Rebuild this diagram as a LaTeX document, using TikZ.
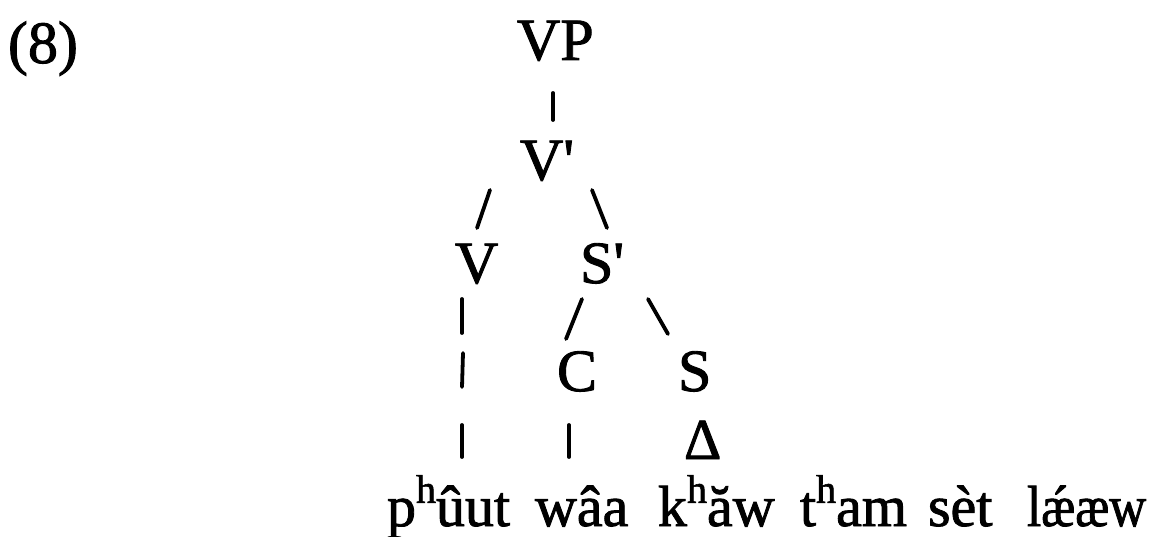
\documentclass[tikz,border=0pt]{standalone}
\usepackage{fontspec}
\setmainfont{Liberation Serif}
\newfontfamily\plainserif{Liberation Serif}[FakeBold=1.5]
\begin{document}
\begin{tikzpicture}[x=1pt,y=-1pt,
  lab/.style={anchor=base west,inner sep=0pt,outer sep=0pt,font=\plainserif\fontsize{60}{72}\selectfont},
  word/.style={lab,font=\plainserif\fontsize{58}{70}\selectfont},
  branch/.style={line width=3.8pt,line cap=round}]
\useasboundingbox (0,0) rectangle (1157,537);
\newcommand{\sh}{\raisebox{0.4em}{\fontsize{40}{40}\selectfont h}}
% labels
\node[lab] (ex) at (8,63) {(8)};
\node[lab] (vp) at (517,60) {VP};
\node[lab] (vbar) at (520,180) {V'};
\node[lab] (v) at (455,283) {V};
\node[lab] (sbar) at (580,283) {S'};
\node[lab] (c) at (557,391) {C};
\node[lab] (s) at (678,391) {S};
\node[lab,font=\plainserif\fontsize{58}{60}\selectfont] (tri) at (684,459) {Δ};
% words
\node[word] (w1) at (387,526) {p\sh ûut};
\node[word] (w2) at (535,526) {wâa};
\node[word] (w3) at (658,526) {k\sh ăw};
\node[word] (w4) at (800,526) {t\sh am};
\node[word] (w5) at (928,526) {sèt};
\node[word] (w6) at (1027,526) {\scalebox{0.88}[1]{lǽæw}};
% branches
\draw[branch] (553,93) -- (553,120);
\draw[branch] (490,190) -- (477,228);
\draw[branch] (592,190) -- (607,228);
\draw[branch] (462,299) -- (462,333);
\draw[branch] (582,299) -- (566,339);
\draw[branch] (648,299) -- (668,334);
\draw[branch] (463,353) -- (462,387);
\draw[branch] (462,425) -- (462,457);
\draw[branch] (569,425) -- (569,457);
\end{tikzpicture}
\end{document}
